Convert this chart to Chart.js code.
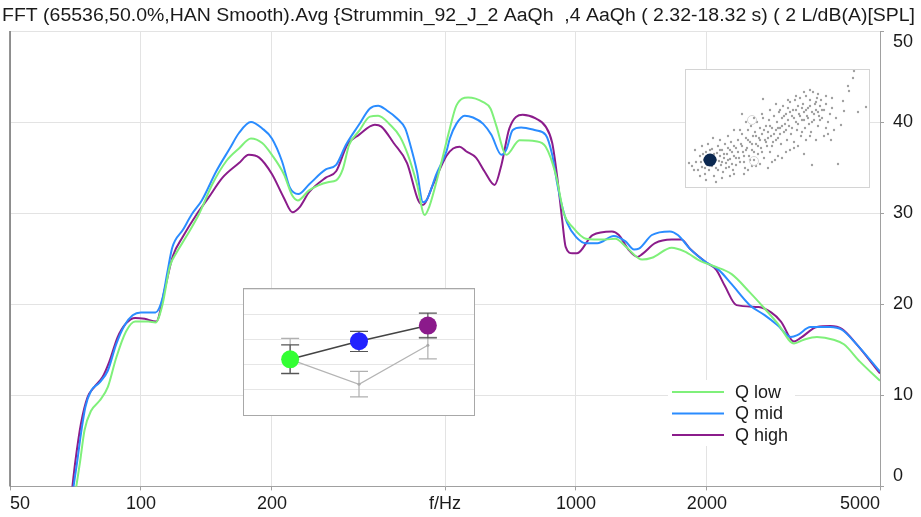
<!DOCTYPE html>
<html>
<head>
<meta charset="utf-8">
<script src="https://cdn.jsdelivr.net/npm/chart.js@4.4.1/dist/chart.umd.min.js"></script>
<style>
  body { margin: 0; background: #fff; }
  #wrap { position: relative; width: 921px; height: 517px; }
  #main_chart { position: absolute; left: 0; top: 0; }
  .inset { position: absolute; background: #fff; }
  .inset canvas { display: block; }
  #inset_q { left: 243px; top: 288px; border: 1px solid #a8a8a8; }
  #inset_scatter { left: 685px; top: 69px; border: 1px solid #d4d4d4; }
</style>
</head>
<body>
<div id="wrap">
  <canvas id="main_chart" width="921" height="517"></canvas>
  <div class="inset" id="inset_q"><canvas id="q_chart" width="230" height="126"></canvas></div>
  <div class="inset" id="inset_scatter"><canvas id="scatter_chart" width="183" height="117"></canvas></div>
</div>
<script>
const title_text = 'FFT (65536,50.0%,HAN Smooth).Avg {Strummin_92_J_2 AaQh  ,4 AaQh ( 2.32-18.32 s) ( 2 L/dB(A)[SPL]';

const x_tick_values = [50, 100, 200, 500, 1000, 2000, 5000];
const x_tick_labels = ['50', '100', '200', 'f/Hz', '1000', '2000', '5000'];

// Q low
const freq_low = [70.5, 72.4, 74.2, 76.8, 80.3, 83.9, 87.7, 92.4, 97, 104, 108, 112, 116.6, 120.5, 127, 136, 146, 157, 168, 179, 190, 200, 213, 223, 229.5, 243.5, 269, 281, 291, 301, 317, 336, 351, 374, 394, 411, 431, 449, 460, 483, 513, 531, 565, 612, 636, 655, 692, 742, 808, 852, 898, 939, 981, 1054, 1169, 1232, 1310, 1420, 1495, 1660, 1775, 1940, 2070, 2280, 2510, 2695, 2908, 3172, 3340, 3580, 3910, 4130, 4495, 5000];
const level_low = [-1, 2.6, 6.2, 8.3, 9.4, 10.9, 14.1, 17.0, 18.1, 18.1, 18.0, 19.9, 24.2, 25.6, 27.4, 29.9, 33.2, 35.7, 37.1, 38.2, 37.7, 36.4, 34.3, 31.9, 31.4, 32.5, 33.4, 33.6, 34.8, 37.5, 39.0, 40.6, 40.7, 39.7, 38.4, 36.4, 33.2, 29.8, 30.7, 34.3, 39.3, 41.8, 42.7, 42.2, 41.5, 39.7, 36.4, 38.0, 37.9, 37.3, 34.3, 29.9, 28.5, 27.2, 27.1, 27.2, 26.2, 24.9, 25.1, 26.2, 25.8, 24.7, 24.2, 23.3, 21.3, 19.7, 17.9, 15.7, 16.1, 16.4, 16.1, 15.6, 13.7, 11.6];

// Q mid
const freq_mid = [69.5, 71.3, 72.8, 74.5, 76.8, 80.3, 83.9, 87.7, 91.7, 95.7, 100, 108, 112, 115, 118, 125, 131, 138, 149, 160, 168, 179, 190, 200, 211, 220, 230, 244, 266, 281, 296, 317, 336, 351, 367, 388, 405, 416, 431, 445, 453, 478, 504, 513, 531, 555, 580, 612, 639, 674, 692, 715, 748, 808, 852, 882, 906, 930, 955, 1000, 1054, 1120, 1222, 1300, 1360, 1395, 1495, 1644, 1715, 1836, 1992, 2126, 2280, 2510, 2715, 2908, 3117, 3228, 3460, 3845, 4085, 4420, 5000];
const level_mid = [-1, 2.6, 5.8, 8.7, 10.5, 11.4, 12.7, 15.6, 17.7, 18.8, 19.1, 19.1, 20.6, 23.5, 26.2, 28.2, 29.9, 31.4, 34.6, 37.1, 38.8, 40.0, 39.3, 38.2, 35.7, 32.8, 32.1, 33.2, 34.8, 35.3, 37.5, 39.7, 41.5, 41.8, 41.3, 40.4, 39.3, 37.5, 34.6, 31.2, 31.4, 34.3, 36.8, 38.2, 39.8, 40.7, 40.5, 39.8, 38.6, 36.4, 37.0, 39.1, 39.4, 39.1, 38.6, 36.4, 33.2, 30.7, 28.9, 27.4, 26.7, 26.7, 27.5, 26.9, 26.0, 26.1, 27.6, 28.0, 27.6, 26.0, 24.6, 23.8, 22.2, 19.9, 18.8, 17.7, 16.4, 16.6, 17.5, 17.5, 17.2, 15.6, 12.6];

// Q high
const freq_high = [69.2, 70.6, 72.8, 75.4, 78.1, 81.6, 84.6, 88.4, 92.4, 97, 102, 108.4, 113.5, 118.4, 124.8, 134, 143, 154, 168, 177, 187, 200, 213, 223, 232, 243.5, 266, 281, 298, 317, 345, 357, 381, 409, 434, 445, 470, 504, 522, 540, 559, 589, 616, 650, 674, 703, 754, 808, 852, 882, 906, 930, 947, 981, 1006, 1092, 1210, 1255, 1320, 1385, 1420, 1520, 1660, 1745, 1836, 1990, 2100, 2200, 2340, 2630, 2810, 2960, 3172, 3285, 3580, 3845, 4085, 4420, 5000];
const level_high = [-1, 2.6, 6.9, 9.8, 10.9, 12.0, 13.7, 16.4, 17.9, 18.5, 18.4, 18.1, 21.7, 25.3, 27.4, 29.8, 31.7, 33.9, 35.5, 36.4, 36.1, 34.3, 31.7, 30.1, 30.7, 32.3, 33.9, 34.6, 37.5, 38.6, 39.7, 39.5, 37.7, 35.5, 31.4, 30.9, 33.2, 36.3, 37.1, 37.3, 36.8, 36.1, 34.6, 33.1, 35.3, 39.3, 40.8, 40.4, 39.5, 37.7, 33.9, 29.2, 26.3, 25.6, 25.6, 27.6, 28.0, 27.6, 26.0, 25.2, 25.5, 26.7, 27.1, 27.1, 26.0, 24.6, 23.8, 22.0, 19.9, 19.7, 19.1, 18.1, 15.9, 16.3, 17.5, 17.6, 17.3, 15.6, 12.4];

// small inset: mean and error bars per Q step
const q_steps = [0, 1, 2];
const q_mean = [2.21, 2.93, 3.55];
const q_err_lo = [1.64, 2.52, 3.06];
const q_err_hi = [2.78, 3.32, 4.04];
const ref_mean = [2.21, 1.22, 2.77];
const ref_err_lo = [1.66, 0.72, 2.23];
const ref_err_hi = [3.04, 1.73, 3.08];

// scatter inset
const scatter_x = [10, 14, 16, 18, 20, 21, 23, 25, 26, 27, 29, 30, 31, 32, 33, 34, 35, 36, 37, 38, 39, 40, 41, 42, 43, 44, 45, 46, 47, 48, 12, 19, 28, 6, 3, 9, 22, 36, 44, 50,
  50, 52, 53, 55, 56, 57, 58, 60, 61, 62, 63, 64, 65, 66, 67, 68, 69, 70, 71, 72, 73, 74, 75, 76, 77, 78, 79, 80, 81, 82, 83, 84, 85, 86, 87, 88, 89, 90, 54, 59, 66, 74, 82, 77,
  91, 92, 93, 94, 95, 96, 97, 98, 99, 100, 101, 102, 103, 104, 105, 106, 107, 108, 109, 110, 111, 112, 113, 114, 115, 116, 117, 118, 119, 120, 121, 122, 123, 124, 125, 126, 127, 128, 129, 130, 131, 132, 133, 134, 135, 136, 138, 140, 142, 144, 146, 148, 150, 104, 112, 118, 126, 96, 130, 138,
  152, 157, 158, 162, 163, 167, 168, 172, 180, 155, 145,
  15, 17, 19, 22, 24, 26, 28, 30, 32, 34, 36, 38, 40, 42, 44, 46, 48, 50, 52, 54, 56, 58, 60, 62, 64, 66, 68, 70, 72, 74, 76, 78, 80, 82, 84, 86, 88, 90, 92, 94, 96, 98, 100, 102, 104, 106, 108, 110, 112, 114, 116, 118, 120, 122, 124, 126, 128, 130, 132, 134, 136,
  62, 70, 86, 92, 100, 108, 120, 140, 60, 56, 48, 42, 34, 27, 16, 8, 20, 30, 14, 48, 58, 94, 102, 110, 118, 124, 132, 140, 146, 116, 124, 142, 84, 90, 76, 68];
const scatter_y = [92, 86, 97, 90, 82, 95, 100, 85, 79, 93, 88, 98, 83, 76, 91, 86, 95, 80, 102, 88, 74, 93, 84, 78, 97, 89, 72, 82, 100, 86, 100, 104, 106, 96, 93, 80, 74, 108, 106, 95,
  78, 70, 88, 74, 64, 82, 92, 68, 78, 60, 86, 72, 56, 80, 66, 90, 62, 74, 52, 84, 68, 58, 78, 64, 48, 88, 70, 56, 76, 62, 50, 82, 66, 58, 72, 46, 90, 60, 60, 98, 96, 94, 98, 29,
  52, 68, 42, 58, 74, 48, 36, 62, 54, 44, 70, 38, 56, 32, 64, 46, 40, 72, 30, 52, 60, 36, 44, 28, 66, 50, 34, 42, 58, 26, 46, 38, 54, 30, 62, 42, 22, 50, 34, 40, 28, 56, 46, 36, 30, 48, 40, 34, 52, 44, 38, 60, 48, 80, 76, 84, 95, 88, 70, 66,
  94, 31, 41, 16, 21, 8, 1, 42, 37, 55, 70,
  92, 84, 98, 88, 80, 96, 84, 90, 100, 80, 92, 84, 98, 90, 80, 94, 76, 88, 82, 92, 76, 86, 80, 70, 90, 74, 82, 66, 76, 70, 82, 60, 72, 68, 56, 76, 64, 70, 58, 64, 56, 46, 60, 50, 42, 58, 48, 40, 54, 46, 38, 50, 40, 48, 36, 52, 44, 32, 42, 50, 40,
  100, 96, 92, 86, 82, 78, 70, 58, 52, 44, 60, 66, 70, 68, 76, 100, 110, 112, 106, 104, 104, 40, 30, 26, 22, 20, 24, 26, 28, 62, 66, 64, 40, 34, 44, 48];
const highlight_x = [24];
const highlight_y = [90];
const ring_x = [66, 68];
const ring_y = [50, 91];

const series_colors = ['#7ff07a', '#2a8cff', '#8b1c8b'];
const label_font = '"Liberation Sans", Arial, sans-serif';

function to_points(xs, ys) {
    return xs.map((x, i) => ({ x: x, y: ys[i] }));
}

const title_plugin = {
    id: 'fft_title',
    afterDraw(chart) {
        const ctx = chart.ctx;
        ctx.save();
        ctx.font = '18px ' + label_font;
        ctx.fillStyle = '#1a1a1a';
        ctx.textBaseline = 'alphabetic';
        const w = ctx.measureText(title_text).width;
        ctx.translate(2, 21);
        ctx.scale(913 / w, 1);
        ctx.fillText(title_text, 0, 0);
        ctx.restore();

        // left frame line
        const a = chart.chartArea;
        ctx.save();
        ctx.strokeStyle = '#707070';
        ctx.lineWidth = 1.5;
        ctx.beginPath();
        ctx.moveTo(a.left, a.top);
        ctx.lineTo(a.left, a.bottom);
        ctx.stroke();
        ctx.restore();
    }
};

const legend_plugin = {
    id: 'q_legend',
    afterDatasetsDraw(chart) {
        const ctx = chart.ctx;
        ctx.save();
        ctx.fillStyle = '#fff';
        ctx.fillRect(668, 380, 127, 66);
        chart.data.datasets.forEach((ds, i) => {
            const y = 392 + i * 21.5;
            ctx.strokeStyle = ds.borderColor;
            ctx.lineWidth = 2;
            ctx.beginPath();
            ctx.moveTo(672, y);
            ctx.lineTo(724, y);
            ctx.stroke();
            ctx.fillStyle = '#1a1a1a';
            ctx.font = '18px ' + label_font;
            ctx.textBaseline = 'middle';
            ctx.fillText(ds.label, 735, y + 1);
        });
        ctx.restore();
    }
};

new Chart(document.getElementById('main_chart'), {
    type: 'line',
    data: {
        datasets: [
            { label: 'Q low', data: to_points(freq_low, level_low), borderColor: series_colors[0] },
            { label: 'Q mid', data: to_points(freq_mid, level_mid), borderColor: series_colors[1] },
            { label: 'Q high', data: to_points(freq_high, level_high), borderColor: series_colors[2] }
        ].map(ds => Object.assign(ds, {
            borderWidth: 2,
            pointRadius: 0,
            fill: false,
            cubicInterpolationMode: 'monotone'
        }))
    },
    options: {
        responsive: false,
        animation: false,
        devicePixelRatio: 1,
        layout: { padding: { left: 10, top: 31, right: 0, bottom: 0 } },
        plugins: {
            legend: { display: false },
            tooltip: { enabled: false },
            title: { display: false }
        },
        scales: {
            x: {
                type: 'logarithmic',
                min: 50,
                max: 5000,
                afterBuildTicks: s => { s.ticks = x_tick_values.map(v => ({ value: v })); },
                afterFit: s => { s.height = 23; },
                ticks: {
                    callback: (v, i) => x_tick_labels[i],
                    autoSkip: false,
                    maxRotation: 0,
                    align: 'inner',
                    padding: 3,
                    color: '#1a1a1a',
                    font: { family: label_font, size: 18 }
                },
                grid: { color: '#e3e3e3', tickColor: '#a0a0a0', tickLength: 4 },
                border: { color: '#a0a0a0' }
            },
            y: {
                position: 'right',
                min: 0,
                max: 50,
                afterFit: s => { s.width = 41; },
                ticks: {
                    stepSize: 10,
                    padding: 9,
                    color: '#1a1a1a',
                    font: { family: label_font, size: 18 },
                    callback: v => v === 50 ? ['', '50'] : (v === 0 ? ['0', ''] : String(v))
                },
                grid: { color: '#e3e3e3', tickColor: '#a0a0a0', tickLength: 4 },
                border: { color: '#a0a0a0' }
            }
        }
    },
    plugins: [title_plugin, legend_plugin]
});

// error bars for the small inset
const error_bar_plugin = {
    id: 'error_bars',
    beforeDatasetsDraw(chart) {
        const ctx = chart.ctx;
        const xs = chart.scales.x, ys = chart.scales.y;
        ctx.save();
        chart.data.datasets.slice().reverse().forEach(ds => {
            ctx.strokeStyle = ds.barColor;
            ctx.lineWidth = 1.2;
            ds.data.forEach((p, i) => {
                const px = xs.getPixelForValue(p.x);
                const lo = ys.getPixelForValue(ds.errLo[i]);
                const hi = ys.getPixelForValue(ds.errHi[i]);
                ctx.beginPath();
                ctx.moveTo(px, lo); ctx.lineTo(px, hi);
                ctx.moveTo(px - 9, lo); ctx.lineTo(px + 9, lo);
                ctx.moveTo(px - 9, hi); ctx.lineTo(px + 9, hi);
                ctx.stroke();
            });
        });
        ctx.restore();
    }
};

new Chart(document.getElementById('q_chart'), {
    type: 'line',
    data: {
        datasets: [
            {
                data: to_points(q_steps, q_mean),
                errLo: q_err_lo, errHi: q_err_hi, barColor: '#555',
                borderColor: '#444', borderWidth: 1.6,
                pointRadius: 9, pointBorderWidth: 0,
                pointBackgroundColor: ['#33ff33', '#2222ff', '#8b1a8b'],
                clip: false, order: 0
            },
            {
                data: to_points(q_steps, ref_mean),
                errLo: ref_err_lo, errHi: ref_err_hi, barColor: '#b0b0b0',
                borderColor: '#b4b4b4', borderWidth: 1.3,
                pointRadius: 1.5, pointBorderWidth: 0, pointBackgroundColor: '#aaa',
                clip: false, order: 1
            }
        ]
    },
    options: {
        responsive: false,
        animation: false,
        devicePixelRatio: 1,
        layout: { padding: 0, autoPadding: false },
        plugins: { legend: { display: false }, tooltip: { enabled: false } },
        scales: {
            x: { type: 'linear', min: -0.67, max: 2.67, display: false },
            y: {
                min: 0, max: 5,
                afterFit: s => { s.width = 0; },
                ticks: { display: false, stepSize: 1 },
                grid: { color: '#e6e6e6', drawTicks: false },
                border: { display: false }
            }
        }
    },
    plugins: [error_bar_plugin]
});

new Chart(document.getElementById('scatter_chart'), {
    type: 'scatter',
    data: {
        datasets: [
            { data: to_points(highlight_x, highlight_y), pointRadius: 6.5, pointBackgroundColor: '#0b2850', pointBorderWidth: 0, order: 0 },
            { data: to_points(ring_x, ring_y), pointRadius: 4.5, pointBackgroundColor: 'rgba(0,0,0,0)', pointBorderColor: '#d6d6d6', pointBorderWidth: 1, order: 1 },
            { data: to_points(scatter_x, scatter_y), pointRadius: 1.2, pointBackgroundColor: '#a0a0a0', pointBorderWidth: 0, order: 2 }
        ]
    },
    options: {
        responsive: false,
        animation: false,
        devicePixelRatio: 1,
        layout: { padding: 0, autoPadding: false },
        plugins: { legend: { display: false }, tooltip: { enabled: false } },
        scales: {
            x: { min: 0, max: 183, display: false },
            y: { min: 0, max: 117, reverse: true, display: false }
        }
    }
});
</script>
</body>
</html>
